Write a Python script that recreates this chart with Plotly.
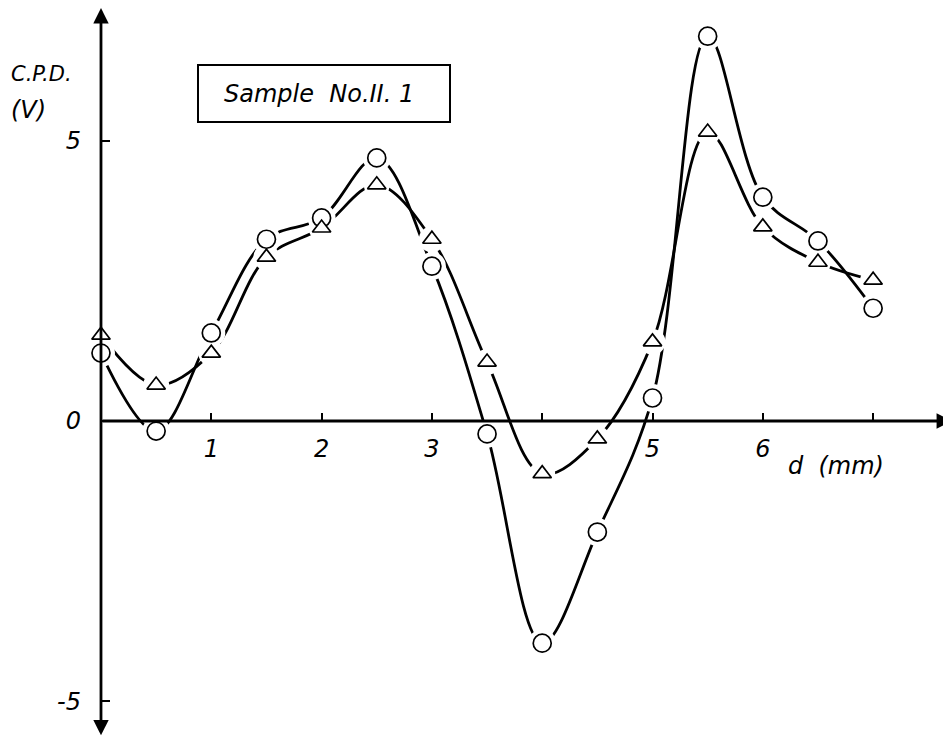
import plotly.graph_objects as go

d_mm = [0, 0.5, 1, 1.5, 2, 2.5, 3, 3.5, 4, 4.5, 5, 5.5, 6, 6.5, 7]
cpd_circle = [1.21, -0.18, 1.57, 3.24, 3.62, 4.69, 2.76, -0.23, -3.96, -1.98, 0.41, 6.86, 3.99, 3.21, 2.01]
cpd_triangle = [1.53, 0.64, 1.21, 2.92, 3.44, 4.21, 3.24, 1.05, -0.94, -0.32, 1.41, 5.15, 3.46, 2.83, 2.51]

x_tickvals = [1, 2, 3, 4, 5, 6, 7]
x_ticktext = ["1", "2", "3", "", "5", "6", ""]
y_tickvals = [-5, 0, 5]
y_ticktext = ["-5", "0", "5"]

# page is offset by the browser's 8px body margin
OFF = 8
W, H = 951 - OFF, 738 - OFF
X_RANGE = [-0.843, 7.706]
Y_RANGE = [-5.651, 7.362]


def px(v):
    return (v - OFF) / W


def py(v):
    return 1 - (v - OFF) / H


FONT = "DejaVu Sans"

fig = go.Figure()
# curves
for yv in (cpd_circle, cpd_triangle):
    fig.add_trace(go.Scatter(
        x=d_mm, y=yv, mode="lines",
        line=dict(color="black", width=2.8, shape="spline", smoothing=1.0),
        hoverinfo="skip", showlegend=False))
# white halos to make the small gaps around markers
for yv, sz in ((cpd_circle, 28), (cpd_triangle, 26)):
    fig.add_trace(go.Scatter(
        x=d_mm, y=yv, mode="markers",
        marker=dict(symbol="circle", size=sz, color="white", line=dict(width=0)),
        hoverinfo="skip", showlegend=False))
# markers
for yv, sym, sz in ((cpd_circle, "circle", 18), (cpd_triangle, "triangle-up", 16)):
    fig.add_trace(go.Scatter(
        x=d_mm, y=yv, mode="markers",
        marker=dict(symbol=sym, size=sz, color="white",
                    line=dict(color="black", width=1.7)),
        showlegend=False))

# axis lines with arrows
fig.add_annotation(x=7.715, y=0, ax=0, ay=0, xref="x", yref="y", axref="x", ayref="y",
                   text="", showarrow=True, arrowhead=2, arrowsize=1.1, arrowwidth=2.8,
                   arrowcolor="black")
fig.add_annotation(x=0, y=7.36, ax=0, ay=-5.63, xref="x", yref="y", axref="x", ayref="y",
                   text="", showarrow=True, arrowhead=2, startarrowhead=2, arrowside="end+start",
                   arrowsize=1.1, startarrowsize=1.1, arrowwidth=2.8, arrowcolor="black")

fig.update_layout(
    width=W, height=H,
    margin=dict(l=0, r=0, t=0, b=0),
    paper_bgcolor="white", plot_bgcolor="white",
    showlegend=False,
    xaxis=dict(range=X_RANGE, showgrid=False, zeroline=False, showline=False,
               anchor="free", position=py(421),
               tickvals=x_tickvals, ticktext=x_ticktext,
               ticks="inside", ticklen=8, tickwidth=2, tickcolor="black",
               tickfont=dict(family=FONT, size=24, color="black", style="italic"),
               ticklabelstandoff=11),
    yaxis=dict(range=Y_RANGE, showgrid=False, zeroline=False, showline=False,
               anchor="free", position=px(101),
               tickvals=y_tickvals, ticktext=y_ticktext,
               ticks="inside", ticklen=8, tickwidth=2, tickcolor="black",
               tickfont=dict(family=FONT, size=24, color="black", style="italic"),
               ticklabelstandoff=20),
)

fig.add_annotation(x=px(9), y=py(74), xref="paper", yref="paper",
                   xanchor="left", yanchor="middle", showarrow=False,
                   text="C.P.D.",
                   font=dict(family=FONT, size=21, color="black", style="italic"))
fig.add_annotation(x=px(9), y=py(110), xref="paper", yref="paper",
                   xanchor="left", yanchor="middle", showarrow=False,
                   text="(V)",
                   font=dict(family=FONT, size=24, color="black", style="italic"))
fig.add_annotation(x=px(836), y=py(466), xref="paper", yref="paper",
                   xanchor="center", yanchor="middle", showarrow=False,
                   text="d  (mm)",
                   font=dict(family=FONT, size=24, color="black", style="italic"))
fig.add_shape(type="rect", xref="paper", yref="paper",
              x0=px(198), x1=px(450), y0=py(122), y1=py(65),
              line=dict(color="black", width=2), fillcolor="rgba(0,0,0,0)")
fig.add_annotation(x=px(319), y=py(94), xref="paper", yref="paper",
                   xanchor="center", yanchor="middle", showarrow=False,
                   text="Sample  No.II. 1",
                   font=dict(family=FONT, size=24, color="black", style="italic"))

fig.write_html("out.html")
